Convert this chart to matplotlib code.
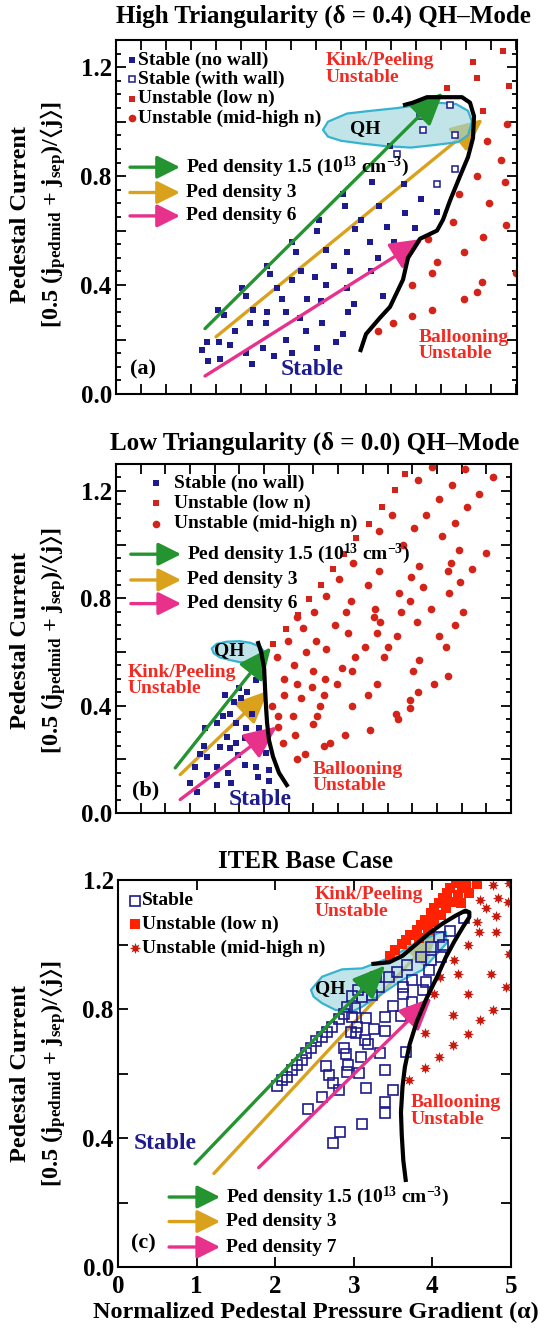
import numpy as np
import matplotlib.pyplot as plt
from matplotlib.patches import Polygon
from matplotlib.ticker import MultipleLocator, FuncFormatter
from matplotlib.colors import to_rgba

plt.rcParams['font.family'] = ['Liberation Serif', 'DejaVu Serif']
plt.rcParams['font.weight'] = 'bold'
plt.rcParams['mathtext.fontset'] = 'custom'
plt.rcParams['mathtext.rm'] = 'Liberation Serif:bold'
plt.rcParams['mathtext.it'] = 'Liberation Serif:bold:italic'
plt.rcParams['mathtext.bf'] = 'Liberation Serif:bold'
plt.rcParams['mathtext.fallback'] = 'stix'
plt.rcParams['axes.linewidth'] = 1.5

NAVY = '#1e1b8c'
RED = '#d42318'
TXTRED = '#f22a22'
GREEN = '#23942f'
GOLD = '#d9a11c'
PINK = '#e8318b'
QHFILL = to_rgba('#9fd6dc', 0.65)
QHEDGE = '#35b3d1'

# ---------------- panel (a): high triangularity ----------------
a_nowall_x = [0.86, 0.91, 0.92, 1.03, 1.04, 1.14, 1.19, 1.30, 1.36, 1.34, 1.47, 1.58, 1.70, 1.76, 2.01, 2.20, 2.27,
              1.02, 1.08, 1.26, 1.30, 1.37, 1.51, 1.50, 1.61, 1.66, 1.70, 1.90, 2.06, 2.32, 1.76, 1.85, 1.91, 1.99,
              2.05, 2.10, 2.31, 2.38, 2.31, 2.34, 2.18, 2.10, 2.01, 2.03, 1.80, 1.76, 1.54, 1.51, 2.29, 2.27, 2.39,
              2.45, 2.54, 2.63, 2.62, 2.71, 2.78, 2.67, 2.55, 2.89, 2.99, 3.05, 2.88, 3.21, 2.56, 2.74, 1.84]
a_nowall_y = [0.16, 0.19, 0.12, 0.19, 0.13, 0.18, 0.23, 0.15, 0.11, 0.26, 0.17, 0.14, 0.20, 0.15, 0.17, 0.19, 0.22,
              0.31, 0.29, 0.39, 0.36, 0.31, 0.30, 0.26, 0.39, 0.35, 0.30, 0.23, 0.26, 0.30, 0.42, 0.45, 0.35, 0.43,
              0.34, 0.40, 0.39, 0.33, 0.52, 0.45, 0.47, 0.53, 0.60, 0.64, 0.52, 0.56, 0.44, 0.47, 0.69, 0.735, 0.607,
              0.64, 0.56, 0.69, 0.50, 0.615, 0.56, 0.36, 0.45, 0.665, 0.61, 0.716, 0.77, 0.67, 0.78, 0.91, 0.28]
a_wall_x = [3.34, 3.04, 3.07, 3.39, 2.81, 3.39, 3.21]
a_wall_y = [1.06, 1.02, 0.97, 0.95, 0.88, 0.826, 0.77]
a_low_x = [3.31, 3.57, 3.61, 3.87, 3.93, 3.67]
a_low_y = [1.125, 1.22, 1.16, 1.26, 1.13, 1.04]
a_mid_x = [3.91, 3.71, 3.85, 3.61, 3.89, 3.43, 3.73, 3.37, 3.90, 3.67, 3.12, 3.48, 3.21, 3.16, 4.00, 3.66, 2.96,
           3.61, 3.48, 3.16, 2.96, 2.77, 2.62]
a_mid_y = [0.99, 0.93, 0.86, 0.80, 0.78, 0.735, 0.70, 0.63, 0.62, 0.575, 0.57, 0.52, 0.485, 0.445, 0.445, 0.41, 0.40,
           0.375, 0.35, 0.31, 0.285, 0.26, 0.23]
a_bnd_x = [2.44, 2.50, 2.64, 2.74, 2.87, 2.92, 3.04, 3.21, 3.27, 3.34, 3.44, 3.52, 3.57, 3.58, 3.54, 3.46, 3.31, 3.11,
           2.97, 2.87]
a_bnd_y = [0.154, 0.22, 0.28, 0.32, 0.42, 0.50, 0.57, 0.60, 0.64, 0.71, 0.80, 0.87, 0.94, 1.02, 1.07, 1.09, 1.09, 1.09,
           1.07, 1.06]
a_qh_x = [2.07, 2.12, 2.31, 2.55, 2.81, 3.00, 3.20, 3.40, 3.52, 3.56, 3.52, 3.42, 3.20, 2.95, 2.70, 2.45, 2.25, 2.12]
a_qh_y = [0.97, 1.00, 1.03, 1.04, 1.05, 1.06, 1.07, 1.065, 1.04, 1.00, 0.95, 0.925, 0.915, 0.905, 0.91, 0.92, 0.93, 0.945]
a_arr_x0 = [0.89, 1.00, 0.89]
a_arr_y0 = [0.24, 0.21, 0.066]
a_arr_x1 = [3.27, 3.67, 3.07]
a_arr_y1 = [1.107, 1.01, 0.57]

# ---------------- panel (b): low triangularity ----------------
b_nowall_x = [1.19, 1.42, 1.02, 1.12, 0.90, 1.05, 0.92, 1.02, 1.22, 1.31, 1.15, 1.24, 1.42, 1.44, 0.80, 0.92, 0.75,
              1.02, 1.31, 0.85, 0.89, 1.13, 1.16, 1.22, 1.55, 1.15, 1.32, 1.08, 1.27, 1.25, 1.45, 1.43, 1.52, 0.82,
              1.38, 1.33, 1.55, 1.10]
b_nowall_y = [0.415, 0.495, 0.334, 0.284, 0.315, 0.247, 0.21, 0.172, 0.334, 0.278, 0.241, 0.216, 0.172, 0.135, 0.172,
              0.142, 0.11, 0.104, 0.179, 0.218, 0.249, 0.149, 0.112, 0.26, 0.162, 0.367, 0.315, 0.36, 0.429, 0.466,
              0.317, 0.243, 0.224, 0.08, 0.37, 0.45, 0.12, 0.44]
b_low_x = [1.59, 1.72, 1.84, 1.95, 2.08, 2.20, 2.31, 2.43, 2.56, 2.69, 2.83, 2.93]
b_low_y = [0.63, 0.685, 0.737, 0.797, 0.85, 0.909, 0.964, 1.024, 1.078, 1.14, 1.203, 1.262]
b_mid_x = [3.20, 3.53, 3.82, 3.06, 3.40, 3.68, 3.27, 3.55, 2.79, 3.14, 3.43, 2.66, 3.02, 3.30, 2.91, 3.47, 3.75, 3.39,
           3.07, 3.61, 2.40, 2.66, 3.36, 2.99, 2.26, 3.48, 2.55, 3.11, 2.87, 3.37, 2.13, 2.38, 2.98, 3.19, 2.62, 2.01,
           2.89, 2.33, 3.51, 1.83, 2.61, 2.67, 3.05, 3.43, 2.22, 1.89, 2.35, 2.64, 3.27, 2.03, 2.85, 1.74, 3.34, 2.52,
           2.75, 2.13, 1.92, 2.42, 1.63, 2.71, 3.07, 1.80, 2.29, 3.01, 2.00, 2.39, 3.36, 1.70, 2.12, 2.64, 2.24, 3.22,
           1.83, 1.98, 3.06, 1.70, 2.55, 2.11, 1.87, 2.98, 2.07, 2.39, 1.58, 2.98, 2.84, 2.04, 1.64, 1.79, 2.86, 1.99,
           1.64, 2.57, 1.81, 2.32, 2.17, 1.69, 2.11, 1.91, 1.83]
b_mid_y = [1.29, 1.28, 1.25, 1.24, 1.22, 1.19, 1.17, 1.14, 1.11, 1.11, 1.08, 1.05, 1.06, 1.03, 1.00, 0.98, 0.97, 0.93,
           0.92, 0.91, 0.93, 0.90, 0.90, 0.88, 0.87, 0.86, 0.85, 0.84, 0.82, 0.82, 0.81, 0.79, 0.79, 0.76, 0.76, 0.75,
           0.75, 0.75, 0.75, 0.73, 0.73, 0.71, 0.71, 0.70, 0.70, 0.69, 0.67, 0.67, 0.66, 0.64, 0.66, 0.64, 0.62, 0.62,
           0.62, 0.61, 0.60, 0.58, 0.58, 0.58, 0.57, 0.55, 0.54, 0.53, 0.53, 0.53, 0.51, 0.50, 0.50, 0.48, 0.48, 0.48,
           0.48, 0.47, 0.45, 0.44, 0.44, 0.44, 0.43, 0.42, 0.40, 0.40, 0.40, 0.39, 0.37, 0.36, 0.36, 0.36, 0.35, 0.33,
           0.32, 0.31, 0.29, 0.29, 0.26, 0.26, 0.25, 0.22, 0.20]
b_bnd_x = [1.44, 1.47, 1.50, 1.51, 1.52, 1.53, 1.55, 1.59, 1.65, 1.73]
b_bnd_y = [0.633, 0.60, 0.54, 0.46, 0.39, 0.335, 0.27, 0.21, 0.15, 0.104]
b_qh_x = [0.97, 1.02, 1.12, 1.25, 1.36, 1.46, 1.50, 1.48, 1.36, 1.25, 1.15, 1.05, 0.99]
b_qh_y = [0.613, 0.63, 0.638, 0.64, 0.634, 0.62, 0.60, 0.576, 0.56, 0.562, 0.57, 0.58, 0.595]
b_arr_x0 = [0.60, 0.65, 0.65]
b_arr_y0 = [0.168, 0.143, 0.05]
b_arr_x1 = [1.57, 1.54, 1.63]
b_arr_y1 = [0.618, 0.455, 0.322]

# ---------------- panel (c): ITER base case ----------------
c_stable_x = [2.02, 2.085, 2.15, 2.21, 2.28, 2.34, 2.39, 2.45, 2.52, 2.60, 2.66, 2.72, 2.81, 2.87, 2.91,
              2.65, 2.68, 2.73, 2.81, 2.42, 2.60, 2.87, 2.90, 2.93, 2.91, 3.07, 3.09, 3.03, 3.14, 3.18, 3.15, 3.26,
              3.33, 3.40, 3.40, 3.50, 3.60, 3.63, 3.66, 3.74, 3.92, 3.96, 3.98, 4.11, 4.13, 4.23, 4.40, 3.16, 3.40,
              3.50, 3.40, 3.40, 3.11, 2.82, 2.73, 3.02, 3.11, 3.23, 3.32, 3.45, 3.55, 3.68, 3.62, 3.74, 3.85, 3.98,
              4.09, 2.98, 3.04, 2.98, 3.05, 3.15, 3.28, 3.88, 2.97]
c_stable_y = [0.562, 0.580, 0.59, 0.61, 0.626, 0.642, 0.663, 0.68, 0.70, 0.714, 0.73, 0.745, 0.768, 0.786, 0.807,
              0.624, 0.595, 0.57, 0.548, 0.489, 0.528, 0.678, 0.662, 0.626, 0.606, 0.603, 0.65, 0.725, 0.704, 0.692,
              0.771, 0.737, 0.664, 0.732, 0.776, 0.81, 0.778, 0.848, 0.668, 0.822, 0.885, 0.921, 0.952, 0.96, 1.0,
              1.043, 1.082, 0.554, 0.61, 0.548, 0.512, 0.476, 0.443, 0.42, 0.386, 0.802, 0.838, 0.843, 0.869, 0.90,
              0.916, 0.937, 0.869, 0.89, 0.962, 0.993, 1.024, 0.776, 0.745, 0.84, 0.86, 0.88, 0.90, 0.86, 0.728]
c_low_x = [3.455, 3.53, 3.61, 3.66, 3.72, 3.80, 3.86, 3.91, 3.98, 4.02, 4.09, 4.13, 4.19, 4.23, 4.30,
           3.83, 3.94, 4.02, 4.11, 4.17, 4.26, 4.32, 4.38, 4.43, 4.36, 4.47, 4.57]
c_low_y = [0.964, 0.983, 1.002, 1.015, 1.029, 1.045, 1.060, 1.076, 1.097, 1.112, 1.130, 1.143, 1.159, 1.174, 1.190,
           1.019, 1.045, 1.071, 1.091, 1.112, 1.133, 1.153, 1.174, 1.19, 1.128, 1.159, 1.188]
c_mid_x = [3.70, 3.90, 4.09, 4.26, 4.45, 3.91, 4.26, 4.60, 4.77, 4.02, 4.45, 4.32, 4.74, 4.94, 4.28, 4.45, 4.97,
           4.59, 4.81, 4.57, 4.81, 4.68, 4.60, 4.83, 4.96, 4.77, 4.98, 4.10]
c_mid_y = [0.58, 0.616, 0.652, 0.688, 0.724, 0.727, 0.781, 0.766, 0.797, 0.848, 0.848, 0.91, 0.91, 0.869, 0.952,
           0.998, 0.97, 1.04, 1.04, 1.07, 1.088, 1.112, 1.138, 1.143, 1.133, 1.185, 1.19, 0.90]
c_bnd_x = [3.66, 3.63, 3.61, 3.60, 3.62, 3.65, 3.71, 3.80, 3.92, 4.06, 4.17, 4.28, 4.39, 4.47, 4.47, 4.42, 4.30,
           4.13, 3.96, 3.79, 3.62, 3.45, 3.25]
c_bnd_y = [0.27, 0.33, 0.41, 0.48, 0.56, 0.62, 0.69, 0.76, 0.83, 0.90, 0.96, 1.01, 1.055, 1.085, 1.10, 1.105, 1.09,
           1.065, 1.035, 1.0, 0.965, 0.945, 0.94]
c_qh_x = [2.455, 2.596, 2.851, 3.106, 3.489, 3.787, 4.064, 4.17, 4.179, 4.085, 3.872, 3.617, 3.362, 3.106, 2.979,
          2.766, 2.596, 2.489]
c_qh_y = [0.859, 0.900, 0.923, 0.926, 0.962, 1.004, 1.035, 1.040, 1.004, 0.978, 0.921, 0.890, 0.848, 0.807, 0.792,
          0.797, 0.818, 0.838]
c_arr_x0 = [0.98, 1.22, 1.79]
c_arr_y0 = [0.32, 0.29, 0.308]
c_arr_x1 = [3.40, 4.06, 3.99]
c_arr_y1 = [0.935, 1.035, 0.835]

arrow_colors = [GREEN, GOLD, PINK]
dens_ab = ['1.5 (10$^{13}$ cm$^{-3}$)', '3', '6']
dens_c = ['1.5 (10$^{13}$ cm$^{-3}$)', '3', '7']


def setup(ax, xmax, ymax, xstep, yminor, xlabels):
    ax.set_xlim(0, xmax)
    ax.set_ylim(0, ymax)
    ax.xaxis.set_major_locator(MultipleLocator(xstep))
    ax.yaxis.set_major_locator(MultipleLocator(0.2))
    if yminor:
        ax.yaxis.set_minor_locator(MultipleLocator(yminor))
    ax.yaxis.set_major_formatter(FuncFormatter(
        lambda v, p: f'{v:.1f}' if abs(v / 0.4 - round(v / 0.4)) < 1e-6 else ''))
    ax.tick_params(which='both', direction='in', top=True, right=True, width=1.3, labelsize=18, pad=3)
    ax.tick_params(which='major', length=7)
    ax.tick_params(which='minor', length=3.5)
    ax.tick_params(axis='x', labelbottom=xlabels, pad=6)


def arrow(ax, x0, y0, x1, y1, color, hl, hw, z):
    ax.annotate('', xy=(x1, y1), xytext=(x0, y0),
                arrowprops=dict(arrowstyle=f'-|>,head_length={hl},head_width={hw}', color=color, lw=2.4,
                                shrinkA=0, shrinkB=0, mutation_scale=10),
                zorder=z)


def arrows(ax, x0, y0, x1, y1):
    for i, c in enumerate(arrow_colors):
        z = 1.8 if c == GOLD else 3
        arrow(ax, x0[i], y0[i], x1[i], y1[i], c, 2.0, 0.9, z)


def arrow_legend(ax, xa, xb, rows, xt, labels):
    for c, y, lab in zip(arrow_colors, rows, labels):
        arrow(ax, xa, y, xb, y, c, 1.4, 0.7, 5)
        ax.text(xt, y, 'Ped density ' + lab, fontsize=14, va='center', ha='left', zorder=5)


def qh(ax, xs, ys, tx, ty):
    ax.add_patch(Polygon(np.column_stack([xs, ys]), closed=True, fc=QHFILL, ec=QHEDGE, lw=1.6, zorder=2,
                         joinstyle='round'))
    ax.text(tx, ty, 'QH', fontsize=14, ha='center', va='center', zorder=5)


fig = plt.figure(figsize=(5.47, 13.29), dpi=100)

# ---- (a)
ax = fig.add_axes([116 / 547, 1 - 394 / 1329, 401 / 547, 354 / 1329])
setup(ax, 4.01, 1.3, 0.25, 0.05, False)
ax.plot(a_nowall_x, a_nowall_y, 's', color=NAVY, ms=4.5, mew=0, zorder=2.5)
ax.plot(a_wall_x, a_wall_y, 's', mfc='white', mec=NAVY, ms=5, mew=1.1, zorder=2.5)
ax.plot(a_low_x, a_low_y, 's', color=RED, ms=5, mew=0, zorder=2.5)
ax.plot(a_mid_x, a_mid_y, 'o', color=RED, ms=5.5, mew=0, zorder=2.5)
arrows(ax, a_arr_x0, a_arr_y0, a_arr_x1, a_arr_y1)
qh(ax, a_qh_x, a_qh_y, 2.49, 0.975)
ax.plot(a_bnd_x, a_bnd_y, '-', color='black', lw=3, solid_capstyle='butt', zorder=4)
for y, (m, kw) in zip([1.226, 1.155, 1.084, 1.012],
                      [('s', dict(color=NAVY, ms=4.5, mew=0)), ('s', dict(mfc='white', mec=NAVY, ms=5, mew=1.1)),
                       ('s', dict(color=RED, ms=5, mew=0)), ('o', dict(color=RED, ms=5.5, mew=0))]):
    ax.plot([0.16], [y], m, zorder=5, **kw)
for y, t in zip([1.226, 1.155, 1.084, 1.012],
                ['Stable (no wall)', 'Stable (with wall)', 'Unstable (low n)', 'Unstable (mid-high n)']):
    ax.text(0.22, y, t, fontsize=14, va='center', ha='left', zorder=5)
arrow_legend(ax, 0.14, 0.64, [0.833, 0.74, 0.654], 0.70, dens_ab)
ax.text(2.10, 1.255, 'Kink/Peeling\nUnstable', color=TXTRED, fontsize=14, ha='left', va='top', linespacing=0.95)
ax.text(3.03, 0.24, 'Ballooning\nUnstable', color=TXTRED, fontsize=14, ha='left', va='top', linespacing=0.95)
ax.text(1.96, 0.09, 'Stable', color=NAVY, fontsize=17, ha='center', va='center')
ax.text(0.14, 0.09, '(a)', fontsize=16, ha='left', va='center')

# ---- (b)
ax = fig.add_axes([116 / 547, 1 - 813 / 1329, 395 / 547, 349 / 1329])
setup(ax, 4.0, 1.3, 0.25, 0.05, False)
ax.plot(b_nowall_x, b_nowall_y, 's', color=NAVY, ms=4.5, mew=0, zorder=2.5)
ax.plot(b_low_x, b_low_y, 's', color=RED, ms=5, mew=0, zorder=2.5)
ax.plot(b_mid_x, b_mid_y, 'o', color=RED, ms=5.5, mew=0, zorder=2.5)
arrows(ax, b_arr_x0, b_arr_y0, b_arr_x1, b_arr_y1)
qh(ax, b_qh_x, b_qh_y, 1.15, 0.607)
ax.plot(b_bnd_x, b_bnd_y, '-', color='black', lw=3, zorder=4)
for y, (m, kw) in zip([1.228, 1.153, 1.078],
                      [('s', dict(color=NAVY, ms=4.5, mew=0)), ('s', dict(color=RED, ms=5, mew=0)),
                       ('o', dict(color=RED, ms=5.5, mew=0))]):
    ax.plot([0.405], [y], m, zorder=5, **kw)
for y, t in zip([1.228, 1.153, 1.078], ['Stable (no wall)', 'Unstable (low n)', 'Unstable (mid-high n)']):
    ax.text(0.59, y, t, fontsize=14, va='center', ha='left', zorder=5)
arrow_legend(ax, 0.15, 0.66, [0.964, 0.868, 0.78], 0.72, dens_ab)
ax.text(0.12, 0.555, 'Kink/Peeling\nUnstable', color=TXTRED, fontsize=14, ha='left', va='top', linespacing=0.95)
ax.text(1.99, 0.195, 'Ballooning\nUnstable', color=TXTRED, fontsize=14, ha='left', va='top', linespacing=0.95)
ax.text(1.46, 0.05, 'Stable', color=NAVY, fontsize=17, ha='center', va='center')
ax.text(0.16, 0.083, '(b)', fontsize=16, ha='left', va='center')

# ---- (c)
ax = fig.add_axes([118 / 547, 1 - 1267 / 1329, 393 / 547, 387 / 1329])
setup(ax, 5.0, 1.2, 1.0, None, True)
ax.xaxis.set_major_formatter(FuncFormatter(lambda v, p: f'{v:.0f}'))
ax.plot(c_stable_x, c_stable_y, 's', mfc='none', mec=NAVY, ms=6.5, mew=1.2, zorder=2.5)
ax.plot(c_low_x, c_low_y, 's', color='#ff2200', ms=6.5, mew=0, zorder=2.5)
ax.plot(c_mid_x, c_mid_y, marker=(8, 1, 0), ls='none', color='#c8190f', ms=8, mew=0, zorder=2.5)
arrows(ax, c_arr_x0, c_arr_y0, c_arr_x1, c_arr_y1)
qh(ax, c_qh_x, c_qh_y, 2.70, 0.864)
ax.plot(c_bnd_x, c_bnd_y, '-', color='black', lw=3, zorder=4)
for y, (m, kw) in zip([1.136, 1.064, 0.988],
                      [('s', dict(mfc='white', mec=NAVY, ms=6.5, mew=1.2)), ('s', dict(color='#ff2200', ms=6.5, mew=0)),
                       ((8, 1, 0), dict(color='#c8190f', ms=8, mew=0))]):
    ax.plot([0.22], [y], marker=m, ls='none', zorder=5, **kw)
for y, t in zip([1.136, 1.064, 0.988], ['Stable', 'Unstable (low n)', 'Unstable (mid-high n)']):
    ax.text(0.30, y, t, fontsize=14, va='center', ha='left', zorder=5)
arrow_legend(ax, 0.65, 1.30, [0.217, 0.141, 0.062], 1.375, dens_c)
ax.text(2.50, 1.18, 'Kink/Peeling\nUnstable', color=TXTRED, fontsize=14, ha='left', va='top', linespacing=0.95)
ax.text(3.72, 0.535, 'Ballooning\nUnstable', color=TXTRED, fontsize=14, ha='left', va='top', linespacing=0.95)
ax.text(0.60, 0.384, 'Stable', color=NAVY, fontsize=17, ha='center', va='center')
ax.text(0.165, 0.072, '(c)', fontsize=16, ha='left', va='center')

# titles and axis labels
fig.text(0.592, 0.9827, 'High Triangularity (δ = 0.4) QH–Mode', fontsize=18, ha='center', va='baseline')
fig.text(0.575, 0.6618, 'Low Triangularity (δ = 0.0) QH–Mode', fontsize=18, ha='center', va='baseline')
fig.text(0.559, 0.3469, 'ITER Base Case', fontsize=18, ha='center', va='baseline')
ylab2 = r'[0.5 (j$_{\rm pedmid}$ + j$_{\rm sep}$)/$\langle$j$\rangle$]'
for yc in [0.8385, 0.518, 0.192]:
    fig.text(0.0366, yc, 'Pedestal Current', fontsize=17.5, rotation=90, ha='center', va='center')
    fig.text(0.0969, yc, ylab2, fontsize=17.5, rotation=90, ha='center', va='center')
fig.text(0.578, 0.0085, 'Normalized Pedestal Pressure Gradient (α)', fontsize=17.5, ha='center', va='baseline')

plt.savefig('out.png', dpi=100)
